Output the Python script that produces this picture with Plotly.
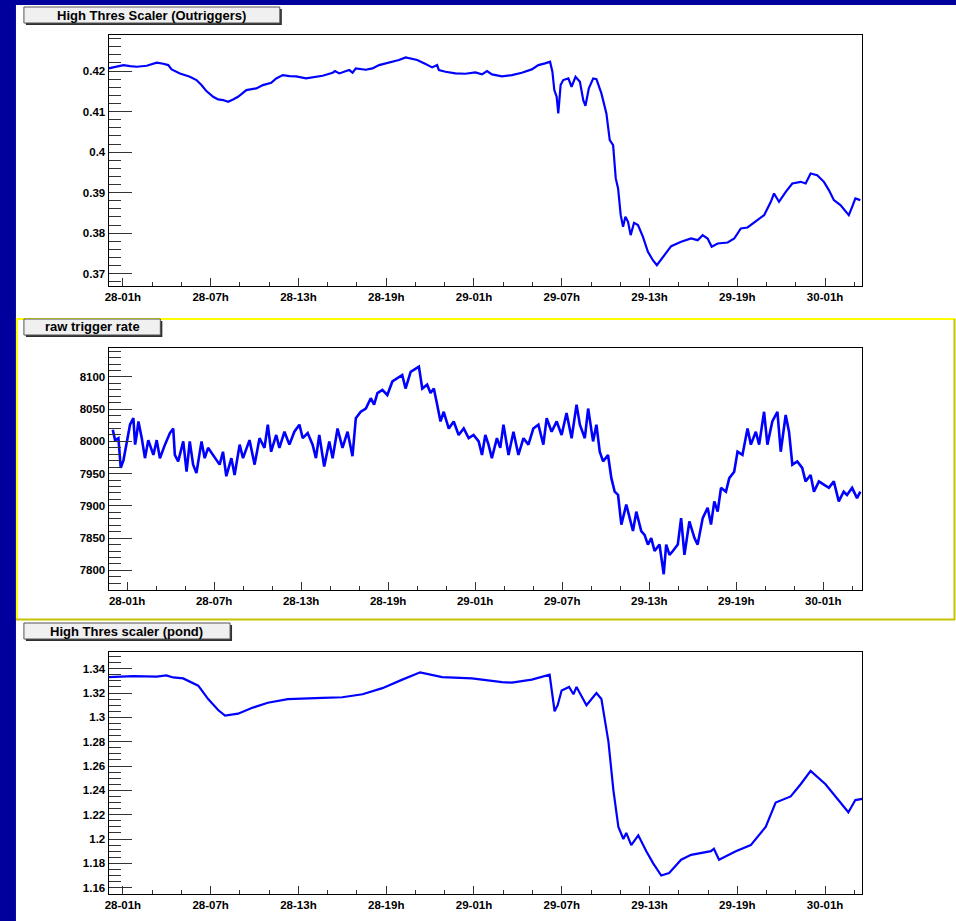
import plotly.graph_objects as go

# ---------------- data (hours since 28-00h) ----------------
OUT_HOURS = [0.02, 0.36, 1.04, 1.49, 1.95, 2.63, 3.31, 3.76, 4.10, 4.33, 4.90, 5.58, 6.03, 6.37,
             6.71, 7.17, 7.51, 7.85, 8.19, 8.53, 8.87, 9.44, 10.12, 10.57, 11.14, 11.48, 11.93,
             12.39, 12.84, 13.52, 13.97, 14.65, 15.34, 15.50, 15.79, 16.47, 16.70, 16.92, 17.60,
             18.06, 18.51, 18.97, 19.42, 19.87, 20.33, 20.67, 21.12, 21.69, 22.14, 22.48, 22.60,
             23.05, 23.73, 24.41, 25.09, 25.55, 25.89, 26.23, 26.91, 27.59, 28.27, 28.95, 29.40,
             29.86, 30.20, 30.36, 30.49, 30.65, 30.76, 30.83, 30.92, 31.10, 31.45, 31.67, 31.94,
             32.24, 32.47, 32.62, 32.85, 33.15, 33.37, 33.71, 34.05, 34.28, 34.51, 34.69, 34.85,
             35.03, 35.19, 35.35, 35.53, 35.71, 35.94, 36.21, 36.55, 36.89, 37.23, 37.50, 37.91,
             38.48, 39.16, 39.84, 40.29, 40.63, 40.97, 41.25, 41.66, 42.34, 42.79, 43.24, 43.70,
             44.38, 44.83, 45.29, 45.51, 45.85, 46.31, 46.76, 47.33, 47.67, 48.01, 48.46, 48.92,
             49.26, 49.60, 50.05, 50.39, 50.62, 50.85, 51.07, 51.41]
OUT_VALUES = [0.42066, 0.42091, 0.42148, 0.42123, 0.42107, 0.42132, 0.42206, 0.42181, 0.42148,
              0.42041, 0.41942, 0.41860, 0.41778, 0.41654, 0.41506, 0.41366, 0.41300, 0.41284,
              0.41243, 0.41300, 0.41366, 0.41531, 0.41572, 0.41654, 0.41712, 0.41819, 0.41901,
              0.41877, 0.41868, 0.41819, 0.41844, 0.41885, 0.41959, 0.42000, 0.41942, 0.42025,
              0.41960, 0.42066, 0.42033, 0.42066, 0.42148, 0.42189, 0.42230, 0.42272, 0.42337,
              0.42313, 0.42272, 0.42173, 0.42091, 0.42148, 0.42025, 0.41984, 0.41942, 0.41934,
              0.41967, 0.41918, 0.42000, 0.41918, 0.41868, 0.41901, 0.41959, 0.42041, 0.42148,
              0.42189, 0.42230, 0.41984, 0.41531, 0.41366, 0.40955, 0.41243, 0.41654, 0.41778,
              0.41819, 0.41613, 0.41860, 0.41737, 0.41284, 0.41144, 0.41572, 0.41819, 0.41802,
              0.41449, 0.40955, 0.40296, 0.40173, 0.39350, 0.39103, 0.38444, 0.38156, 0.38403,
              0.38280, 0.37951, 0.38255, 0.38198, 0.37909, 0.37539, 0.37333, 0.37210, 0.37416,
              0.37679, 0.37786, 0.37868, 0.37827, 0.37951, 0.37868, 0.37663, 0.37745, 0.37770,
              0.37868, 0.38115, 0.38140, 0.38321, 0.38444, 0.38774, 0.38979, 0.38774, 0.39020,
              0.39226, 0.39267, 0.39226, 0.39473, 0.39432, 0.39267, 0.39062, 0.38815, 0.38691,
              0.38527, 0.38444, 0.38650, 0.38856, 0.38815]

RATE_HOURS = [0.01, 0.17, 0.40, 0.56, 0.75, 0.98, 1.20, 1.43, 1.55, 1.66, 1.78, 2.01, 2.23, 2.46,
              2.81, 3.04, 3.26, 3.61, 3.95, 4.18, 4.29, 4.52, 4.87, 5.10, 5.32, 5.55, 5.78, 6.13,
              6.35, 6.58, 7.04, 7.38, 7.61, 7.84, 8.19, 8.41, 8.76, 8.99, 9.44, 9.79, 10.13,
              10.47, 10.70, 10.93, 11.28, 11.50, 11.85, 12.19, 12.53, 12.88, 13.11, 13.45, 13.79,
              14.02, 14.25, 14.59, 14.94, 15.17, 15.51, 15.85, 16.20, 16.54, 16.77, 17.11, 17.46,
              17.80, 18.03, 18.26, 18.60, 18.94, 19.29, 19.63, 19.97, 20.20, 20.55, 20.77, 21.12,
              21.35, 21.69, 21.92, 22.15, 22.38, 22.61, 22.83, 23.18, 23.52, 23.86, 24.21, 24.55,
              24.89, 25.24, 25.47, 25.70, 25.92, 26.15, 26.50, 26.73, 26.95, 27.30, 27.64, 27.98,
              28.33, 28.67, 29.01, 29.36, 29.70, 29.93, 30.27, 30.62, 30.96, 31.30, 31.65, 31.99,
              32.22, 32.56, 32.79, 33.13, 33.36, 33.59, 33.82, 34.16, 34.39, 34.62, 34.85, 35.08,
              35.42, 35.65, 35.88, 36.11, 36.45, 36.68, 36.91, 37.14, 37.37, 37.71, 37.94, 38.00,
              38.17, 38.40, 38.63, 38.97, 39.20, 39.43, 39.77, 40.12, 40.34, 40.69, 41.03, 41.26,
              41.49, 41.72, 41.95, 42.29, 42.52, 42.86, 43.09, 43.43, 43.78, 44.01, 44.35, 44.58,
              44.92, 45.15, 45.49, 45.84, 46.07, 46.41, 46.64, 46.87, 47.21, 47.55, 47.78, 48.13,
              48.36, 48.70, 49.04, 49.39, 49.73, 50.07, 50.41, 50.64, 50.99, 51.33, 51.56]
RATE_VALUES = [8018, 8002, 8005, 7959, 7971, 8000, 8026, 8036, 7995, 8010, 8031, 8005, 7974, 8002,
               7979, 8002, 7974, 7995, 8013, 8020, 7979, 7969, 8000, 7953, 8000, 7964, 7951, 8000,
               7974, 7990, 7974, 7964, 7984, 7946, 7974, 7948, 7995, 7974, 8002, 7964, 8005,
               7990, 8026, 7984, 8010, 7990, 8015, 7995, 8015, 8026, 8005, 8013, 7995,
               7974, 8010, 7961, 8000, 7974, 8020, 7990, 8015, 7977, 8036, 8046, 8051,
               8067, 8057, 8075, 8080, 8072, 8093, 8098, 8103, 8082, 8108, 8111, 8116,
               8082, 8088, 8075, 8082, 8057, 8031, 8046, 8020, 8031, 8010, 8020, 8005,
               8010, 8000, 7979, 8010, 7995, 7974, 8005, 7990, 8026, 7979, 8015, 7979,
               8005, 7995, 8020, 8026, 7995, 8036, 8015, 8031, 8010, 8044, 8005, 8057,
               8026, 8005, 8051, 8000, 8026, 7984, 7969, 7979, 7943, 7922, 7917, 7871,
               7902, 7881, 7861, 7891, 7861, 7855, 7840, 7850, 7830, 7840, 7809, 7794,
               7840, 7824, 7830, 7840, 7881, 7824, 7876, 7850, 7840, 7881, 7897, 7871,
               7907, 7891, 7928, 7922, 7943, 7953, 7984, 7979, 8020, 7995, 8015, 7995,
               8046, 7995, 8031, 8046, 7984, 8041, 8015, 7964, 7969, 7959, 7938, 7948,
               7922, 7938, 7933, 7928, 7938, 7907, 7922, 7917, 7928, 7912, 7922]

POND_HOURS = [0.02, 1.72, 3.30, 3.97, 4.44, 5.12, 6.15, 6.83, 7.51, 7.98, 8.87, 9.89, 10.91,
              12.27, 14.65, 16.00, 17.38, 18.74, 20.10, 21.32, 22.82, 24.86, 26.91, 27.59, 28.95,
              30.17, 30.51, 30.72, 30.99, 31.50, 31.80, 32.01, 32.69, 33.37, 33.71, 34.19, 34.53,
              34.87, 35.21, 35.41, 35.75, 36.23, 36.78, 37.25, 37.80, 38.34, 39.16, 39.84, 41.20,
              41.40, 41.75, 42.90, 43.92, 44.94, 45.62, 46.65, 47.33, 48.01, 49.03, 50.05, 50.59,
              51.07, 51.55]
POND_VALUES = [1.3330, 1.3338, 1.3335, 1.3345, 1.3328, 1.3320, 1.3260, 1.3150, 1.3060, 1.3015,
               1.3030, 1.3080, 1.3120, 1.3150, 1.3160, 1.3165, 1.3190, 1.3240, 1.3310, 1.3370,
               1.3330, 1.3320, 1.3290, 1.3285, 1.3310, 1.3350, 1.3050, 1.3100, 1.3220, 1.3250,
               1.3190, 1.3250, 1.3100, 1.3200, 1.3150, 1.2800, 1.2400, 1.2100, 1.2000, 1.2050,
               1.1950, 1.2030, 1.1900, 1.1800, 1.1700, 1.1720, 1.1830, 1.1870, 1.1900, 1.1920,
               1.1830, 1.1900, 1.1950, 1.2100, 1.2300, 1.2350, 1.2450, 1.2560, 1.2450, 1.2300,
               1.2220, 1.2320, 1.2330]

TICK_HOURS = [1, 7, 13, 19, 25, 31, 37, 43, 49]
TICK_LABELS = ["28-01h", "28-07h", "28-13h", "28-19h", "29-01h", "29-07h", "29-13h", "29-19h", "30-01h"]
TITLES = ["High Thres Scaler (Outriggers)", "raw trigger rate", "High Thres scaler (pond)"]

# ---------------- layout helpers ----------------
W, H = 956, 921
def px(x):
    return x / W
def py(y):
    return 1 - y / H

FONT = "Liberation Sans, Arial, Helvetica, sans-serif"
BLUE_BG = "#00009c"
LINE_BLUE = "#0000ff"

fig = go.Figure()

panels = [
    dict(x=OUT_HOURS, y=OUT_VALUES, ytop=35, ybot=286, xr=[0.02, 51.55],
         yr=[0.36696, 0.4289], dt=0.01, t0=0.37, mdt=0.002, lw=2.2),
    dict(x=RATE_HOURS, y=RATE_VALUES, ytop=348, ybot=590, xr=[-0.28, 51.70],
         yr=[7769.5, 8144.9], dt=50, t0=7800, mdt=10, lw=2.6),
    dict(x=POND_HOURS, y=POND_VALUES, ytop=652, ybot=894, xr=[0.02, 51.55],
         yr=[1.1548, 1.3537], dt=0.02, t0=1.16, mdt=0.005, lw=2.2),
]

tickfont = dict(family=FONT, size=11.5, color="black", weight="bold")

for i, p in enumerate(panels):
    n = "" if i == 0 else str(i + 1)
    fig.add_trace(go.Scatter(x=p["x"], y=p["y"], mode="lines",
                             line=dict(color=LINE_BLUE, width=p["lw"]),
                             xaxis="x" + n, yaxis="y" + n, showlegend=False,
                             hoverinfo="skip"))
    fig.layout["xaxis" + n] = dict(
        domain=[px(105), px(862)], anchor="y" + n, range=p["xr"],
        tickmode="array", tickvals=TICK_HOURS, ticktext=TICK_LABELS,
        ticks="inside", ticklen=8, tickcolor="#333", tickwidth=1,
        minor=dict(ticks="inside", ticklen=4, tick0=1, dtick=2, tickcolor="#333", tickwidth=1, showgrid=False),
        showline=True, linecolor="black", linewidth=1, mirror=True,
        showgrid=False, zeroline=False, tickfont=tickfont, fixedrange=True)
    fig.layout["yaxis" + n] = dict(
        domain=[py(p["ybot"]), py(p["ytop"])], anchor="x" + n, range=p["yr"],
        tickmode="linear", tick0=p["t0"], dtick=p["dt"],
        ticks="inside", ticklen=23, tickcolor="#333", tickwidth=1,
        minor=dict(ticks="inside", ticklen=12, tick0=p["t0"], dtick=p["mdt"], tickcolor="#333", tickwidth=1, showgrid=False),
        showline=True, linecolor="black", linewidth=1, mirror=True,
        showgrid=False, zeroline=False, tickfont=tickfont, fixedrange=True)

shapes = []
# white pads
for (y0, y1) in [(5, 318), (318, 621), (621, 921)]:
    shapes.append(dict(type="rect", xref="paper", yref="paper", x0=px(12), x1=px(956),
                       y0=py(y1), y1=py(y0), fillcolor="white", line=dict(width=0), layer="below"))
# yellow border of the selected pad
shapes.append(dict(type="line", xref="paper", yref="paper", x0=px(12), x1=px(955), y0=py(319), y1=py(319),
                   line=dict(color="#ffff00", width=2)))
shapes.append(dict(type="line", xref="paper", yref="paper", x0=px(13), x1=px(13), y0=py(319), y1=py(620),
                   line=dict(color="#ffff00", width=2)))
shapes.append(dict(type="line", xref="paper", yref="paper", x0=px(954.5), x1=px(954.5), y0=py(319), y1=py(620),
                   line=dict(color="#c4c400", width=2)))
shapes.append(dict(type="line", xref="paper", yref="paper", x0=px(12), x1=px(955), y0=py(619.5), y1=py(619.5),
                   line=dict(color="#c4c400", width=2)))

# title boxes
boxes = [(20, 277, 7, 23), (20, 157, 319, 335), (20, 227, 623, 639)]
annotations = []
for (x0, x1, y0, y1), t in zip(boxes, TITLES):
    shapes.append(dict(type="rect", xref="paper", yref="paper", x0=px(x0 + 2), x1=px(x1 + 2),
                       y0=py(y1 + 2), y1=py(y0 + 2), fillcolor="#303030", line=dict(width=0)))
    shapes.append(dict(type="rect", xref="paper", yref="paper", x0=px(x0), x1=px(x1),
                       y0=py(y1), y1=py(y0), fillcolor="#f0f0f0", line=dict(color="#555", width=1)))
    annotations.append(dict(xref="paper", yref="paper", x=px((x0 + x1) / 2), y=py((y0 + y1) / 2),
                            text=t, showarrow=False, xanchor="center", yanchor="middle",
                            font=dict(family=FONT, size=13, color="black", weight="bold")))

fig.update_layout(width=W, height=H, autosize=False,
                  margin=dict(l=0, r=0, t=0, b=0, pad=0),
                  paper_bgcolor=BLUE_BG, plot_bgcolor="white",
                  shapes=shapes, annotations=annotations, showlegend=False)

fig.write_html("out.html", config={"displayModeBar": False, "staticPlot": True},
               post_script="document.body.style.margin='0';document.body.style.overflow='hidden';")
